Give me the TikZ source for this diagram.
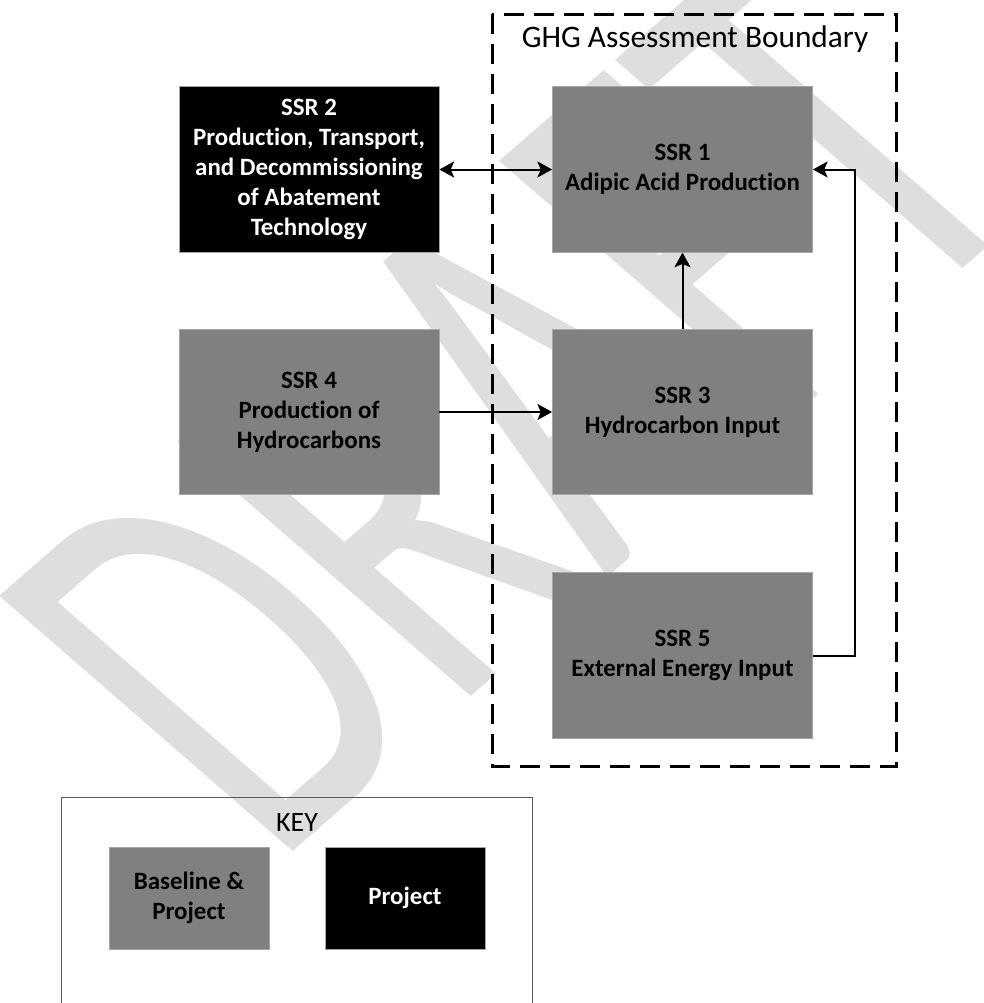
\documentclass[tikz,border=0pt]{standalone}
\usepackage{fontspec}
\usepackage{graphicx}
\setmainfont{Carlito}[RawFeature=-liga]
\usetikzlibrary{arrows.meta,positioning}

\tikzset{
  ssrbox/.style={draw=black!35, line width=0.6pt, fill=black!50, text=black,
    font=\bfseries\fontsize{18.7}{22.5}\selectfont, align=center,
    minimum width=195pt, minimum height=124pt, inner sep=2pt},
  projbox/.style={ssrbox, fill=black, text=white},
  keybox/.style={ssrbox, minimum width=120pt, minimum height=76.5pt},
  flow/.style={line width=1.5pt, -{Stealth[length=11pt,width=12pt,inset=2.5pt]}},
  bothflow/.style={line width=1.5pt, {Stealth[length=11pt,width=12pt,inset=2.5pt]}-{Stealth[length=11pt,width=12pt,inset=2.5pt]}},
}

\begin{document}
\begin{tikzpicture}[x=0.75pt, y=-0.75pt]
\useasboundingbox (0,0) rectangle (984,1003);
\clip (0,0) rectangle (984,1003);
% watermark
\node[yscale=0.87, rotate=45, anchor=base west, inner sep=0, text=black!13,
  font=\fontsize{485}{485}\selectfont] (wm) at (273,869) {\scalebox{0.63}[1]{DRAFT}};
% assessment boundary
\draw[line width=2.25pt, dash pattern=on 15pt off 7.5pt] (492,14) rectangle (896,766);
\node[font=\fontsize{23.5}{28}\selectfont] (ghg) at (695,39) {GHG Assessment Boundary};
% SSR boxes
\node[projbox] (ssr2) at (309,169.5) {SSR 2\\Production, Transport,\\and Decommissioning\\of Abatement\\Technology};
\node[ssrbox] (ssr1) at (682.5,169.5) {SSR 1\\Adipic Acid Production};
\node[ssrbox] (ssr4) at (309,412) {SSR 4\\Production of\\Hydrocarbons};
\node[ssrbox] (ssr3) at (682.5,412) {SSR 3\\Hydrocarbon Input};
\node[ssrbox] (ssr5) at (682.5,655.5) {SSR 5\\External Energy Input};
% flows
\draw[bothflow] (ssr2) -- (ssr1);
\draw[flow] (ssr3) -- (ssr1);
\draw[flow] (ssr4) -- (ssr3);
\coordinate (turn) at (855,655.5);
\draw[flow] (ssr5.east) -- (turn) |- (ssr1.east);
% key
\draw[black!65, line width=0.75pt] (61,1010) -- (61,797) -- (532,797) -- (532,1010);
\node[font=\fontsize{21}{25}\selectfont] (key) at (297,823) {KEY};
\node[keybox] (base) at (189,898) {Baseline \&\\Project};
\node[keybox, fill=black, text=white] (proj) at (405,898) {Project};
\end{tikzpicture}
\end{document}
